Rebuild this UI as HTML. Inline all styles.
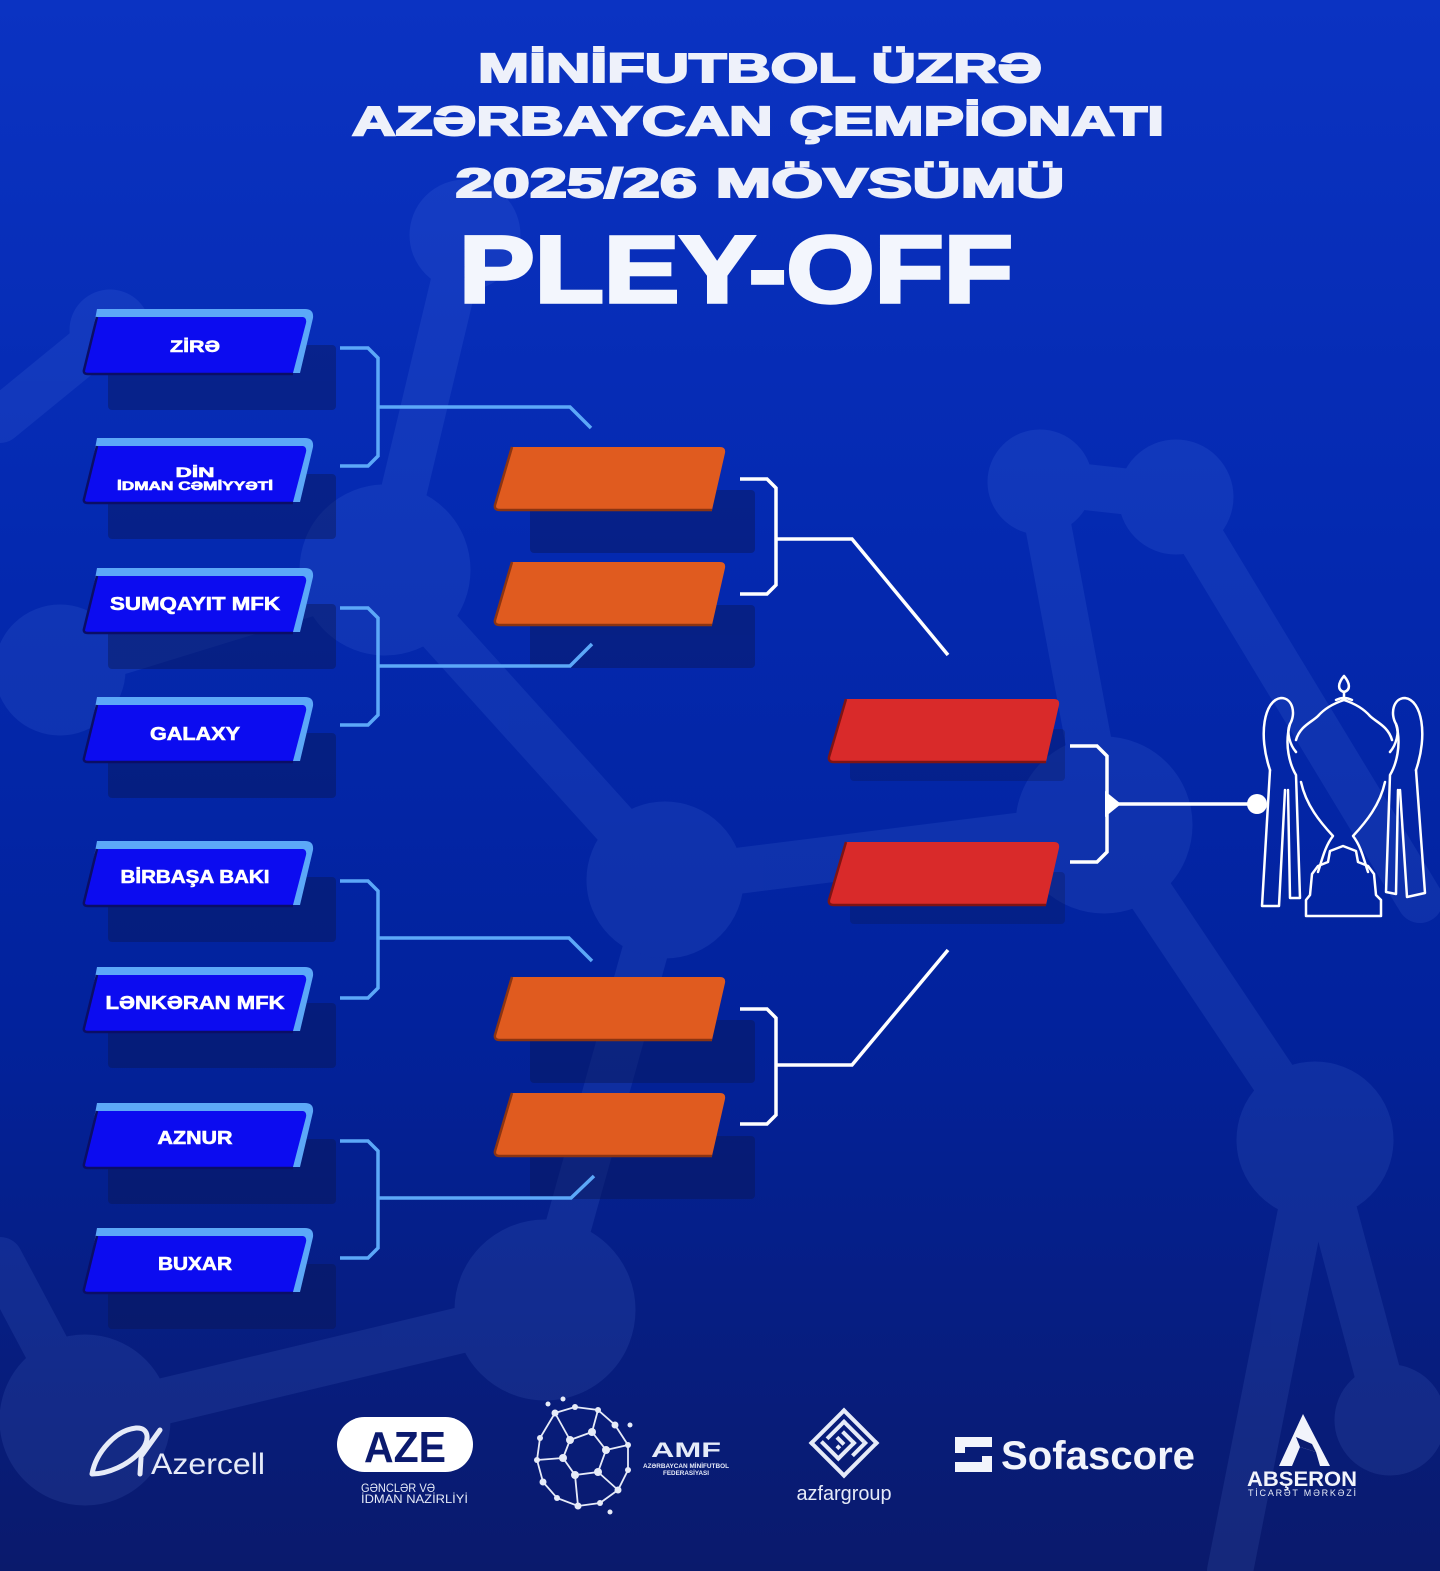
<!DOCTYPE html>
<html>
<head>
<meta charset="utf-8">
<style>
html,body{margin:0;padding:0;background:#0426a8;}
svg{display:block;}
text{font-family:"Liberation Sans","DejaVu Sans",sans-serif;}
</style>
</head>
<body>
<svg width="1440" height="1571" viewBox="0 0 1440 1571" xmlns="http://www.w3.org/2000/svg">
<defs>
<linearGradient id="bg" x1="0" y1="0" x2="0" y2="1">
<stop offset="0" stop-color="#0b33c2"/>
<stop offset="0.35" stop-color="#0429b0"/>
<stop offset="0.65" stop-color="#02229c"/>
<stop offset="1" stop-color="#0a1a6c"/>
</linearGradient>
</defs>
<rect width="1440" height="1571" fill="url(#bg)"/>

<!-- background network -->
<g opacity="0.1" fill="#7ea8ff" stroke="#7ea8ff" stroke-linecap="round">
<g stroke-width="46" fill="none">
<line x1="465" y1="235" x2="385" y2="570"/>
<line x1="385" y1="570" x2="665" y2="880"/>
<line x1="385" y1="570" x2="60" y2="670"/>
<line x1="665" y1="880" x2="1104" y2="825"/>
<line x1="1040" y1="482" x2="1176" y2="497"/>
<line x1="1040" y1="482" x2="1104" y2="825"/>
<line x1="1176" y1="497" x2="1420" y2="900"/>
<line x1="1104" y1="825" x2="1315" y2="1140"/>
<line x1="1315" y1="1140" x2="1390" y2="1420"/>
<line x1="545" y1="1310" x2="85" y2="1420"/>
<line x1="665" y1="880" x2="545" y2="1310"/>
<line x1="0" y1="1260" x2="85" y2="1420"/>
<line x1="0" y1="420" x2="110" y2="330"/>
<line x1="1315" y1="1140" x2="1230" y2="1571"/>
</g>
<circle cx="465" cy="235" r="55"/>
<circle cx="385" cy="570" r="85"/>
<circle cx="60" cy="670" r="65"/>
<circle cx="665" cy="880" r="78"/>
<circle cx="1040" cy="482" r="52"/>
<circle cx="1176" cy="497" r="57"/>
<circle cx="1104" cy="825" r="88"/>
<circle cx="1315" cy="1140" r="78"/>
<circle cx="545" cy="1310" r="90"/>
<circle cx="85" cy="1420" r="85"/>
<circle cx="1390" cy="1420" r="55"/>
<circle cx="110" cy="330" r="40"/>
</g>

<!-- TITLE -->
<g fill="#eef1fa" stroke="#eef1fa" font-weight="bold" text-anchor="middle">
<text x="760" y="82" font-size="41" stroke-width="2" textLength="564" lengthAdjust="spacingAndGlyphs">MİNİFUTBOL  ÜZRƏ</text>
<text x="758" y="135" font-size="41" stroke-width="2" textLength="812" lengthAdjust="spacingAndGlyphs">AZƏRBAYCAN ÇEMPİONATI</text>
<text x="760" y="197" font-size="41" stroke-width="2" textLength="609" lengthAdjust="spacingAndGlyphs">2025/26 MÖVSÜMÜ</text>
<text x="736" y="302" font-size="95" stroke-width="3.5" fill="#f3f6fd" stroke="#f3f6fd" textLength="554" lengthAdjust="spacingAndGlyphs">PLEY-OFF</text>
</g>

<!-- SHADOWS -->
<g fill="#0a1650" opacity="0.42">
<rect x="108" y="345" width="228" height="65" rx="4"/>
<rect x="108" y="474" width="228" height="65" rx="4"/>
<rect x="108" y="604" width="228" height="65" rx="4"/>
<rect x="108" y="733" width="228" height="65" rx="4"/>
<rect x="108" y="877" width="228" height="65" rx="4"/>
<rect x="108" y="1003" width="228" height="65" rx="4"/>
<rect x="108" y="1139" width="228" height="65" rx="4"/>
<rect x="108" y="1264" width="228" height="65" rx="4"/>
<rect x="530" y="490" width="225" height="63" rx="4"/>
<rect x="530" y="605" width="225" height="63" rx="4"/>
<rect x="530" y="1020" width="225" height="63" rx="4"/>
<rect x="530" y="1136" width="225" height="63" rx="4"/>
</g>
<g fill="#0a1650" opacity="0.3">
<rect x="850" y="729" width="215" height="52" rx="4"/>
<rect x="850" y="872" width="215" height="52" rx="4"/>
</g>

<!-- blue connectors -->
<g fill="none" stroke="#5ca8f8" stroke-width="3.5" stroke-linejoin="miter">
<path d="M340,348 H368 L378,358 V456 L368,466 H340"/>
<path d="M378,407 H570 L591,428"/>
<path d="M340,608 H368 L378,618 V715 L368,725 H340"/>
<path d="M378,666 H570 L592,644"/>
<path d="M340,881 H368 L378,891 V988 L368,998 H340"/>
<path d="M378,938 H569 L592,961"/>
<path d="M340,1141 H368 L378,1151 V1248 L368,1258 H340"/>
<path d="M378,1198 H571 L594,1176"/>
</g>

<!-- white connectors -->
<g fill="none" stroke="#ffffff" stroke-width="3.5">
<path d="M740,479 H767 L776,488 V585 L767,594 H740"/>
<path d="M776,539 H852 L948,655"/>
<path d="M740,1009 H767 L776,1018 V1115 L767,1124 H740"/>
<path d="M776,1065 H852 L948,950"/>
<path d="M1070,746 H1097 L1107,756 V852 L1097,862 H1070"/>
<path d="M1107,804 H1257"/>
</g>
<path d="M1105,791 L1121,804 L1105,817 Z" fill="#ffffff"/>
<circle cx="1257" cy="804" r="10" fill="#ffffff"/>

<!-- TEAM BOXES -->
<g id="teams">
<g transform="translate(0,309)">
<path d="M97,0 L305,0 Q314,0 313,9 L300,64 L85,64 Z" fill="#5ca8f8"/>
<path d="M97,8 L303,8 Q307,9 306,14 L293,64 L84,64 Z" fill="#0c0cf0"/>
<path d="M97,8 L84,61 Q83,65 88,65 L293,65" fill="none" stroke="#0a0e66" stroke-width="2.5"/>
</g>
<g transform="translate(0,438)">
<path d="M97,0 L305,0 Q314,0 313,9 L300,64 L85,64 Z" fill="#5ca8f8"/>
<path d="M97,8 L303,8 Q307,9 306,14 L293,64 L84,64 Z" fill="#0c0cf0"/>
<path d="M97,8 L84,61 Q83,65 88,65 L293,65" fill="none" stroke="#0a0e66" stroke-width="2.5"/>
</g>
<g transform="translate(0,568)">
<path d="M97,0 L305,0 Q314,0 313,9 L300,64 L85,64 Z" fill="#5ca8f8"/>
<path d="M97,8 L303,8 Q307,9 306,14 L293,64 L84,64 Z" fill="#0c0cf0"/>
<path d="M97,8 L84,61 Q83,65 88,65 L293,65" fill="none" stroke="#0a0e66" stroke-width="2.5"/>
</g>
<g transform="translate(0,697)">
<path d="M97,0 L305,0 Q314,0 313,9 L300,64 L85,64 Z" fill="#5ca8f8"/>
<path d="M97,8 L303,8 Q307,9 306,14 L293,64 L84,64 Z" fill="#0c0cf0"/>
<path d="M97,8 L84,61 Q83,65 88,65 L293,65" fill="none" stroke="#0a0e66" stroke-width="2.5"/>
</g>
<g transform="translate(0,841)">
<path d="M97,0 L305,0 Q314,0 313,9 L300,64 L85,64 Z" fill="#5ca8f8"/>
<path d="M97,8 L303,8 Q307,9 306,14 L293,64 L84,64 Z" fill="#0c0cf0"/>
<path d="M97,8 L84,61 Q83,65 88,65 L293,65" fill="none" stroke="#0a0e66" stroke-width="2.5"/>
</g>
<g transform="translate(0,967)">
<path d="M97,0 L305,0 Q314,0 313,9 L300,64 L85,64 Z" fill="#5ca8f8"/>
<path d="M97,8 L303,8 Q307,9 306,14 L293,64 L84,64 Z" fill="#0c0cf0"/>
<path d="M97,8 L84,61 Q83,65 88,65 L293,65" fill="none" stroke="#0a0e66" stroke-width="2.5"/>
</g>
<g transform="translate(0,1103)">
<path d="M97,0 L305,0 Q314,0 313,9 L300,64 L85,64 Z" fill="#5ca8f8"/>
<path d="M97,8 L303,8 Q307,9 306,14 L293,64 L84,64 Z" fill="#0c0cf0"/>
<path d="M97,8 L84,61 Q83,65 88,65 L293,65" fill="none" stroke="#0a0e66" stroke-width="2.5"/>
</g>
<g transform="translate(0,1228)">
<path d="M97,0 L305,0 Q314,0 313,9 L300,64 L85,64 Z" fill="#5ca8f8"/>
<path d="M97,8 L303,8 Q307,9 306,14 L293,64 L84,64 Z" fill="#0c0cf0"/>
<path d="M97,8 L84,61 Q83,65 88,65 L293,65" fill="none" stroke="#0a0e66" stroke-width="2.5"/>
</g>
</g>

<!-- team names -->
<g fill="#ffffff" stroke="#ffffff" stroke-width="0.6" font-weight="bold" text-anchor="middle">
<text x="195" y="352" font-size="17" textLength="50" lengthAdjust="spacingAndGlyphs">ZİRƏ</text>
<text x="195" y="477" font-size="14" textLength="39" lengthAdjust="spacingAndGlyphs">DİN</text>
<text x="195" y="490" font-size="12" textLength="156" lengthAdjust="spacingAndGlyphs">İDMAN CƏMİYYƏTİ</text>
<text x="195" y="610" font-size="18" textLength="170" lengthAdjust="spacingAndGlyphs">SUMQAYIT MFK</text>
<text x="195" y="740" font-size="18" textLength="90" lengthAdjust="spacingAndGlyphs">GALAXY</text>
<text x="195" y="883" font-size="18" textLength="149" lengthAdjust="spacingAndGlyphs">BİRBAŞA BAKI</text>
<text x="195" y="1009" font-size="18" textLength="179" lengthAdjust="spacingAndGlyphs">LƏNKƏRAN MFK</text>
<text x="195" y="1144" font-size="18" textLength="75" lengthAdjust="spacingAndGlyphs">AZNUR</text>
<text x="195" y="1270" font-size="18" textLength="74" lengthAdjust="spacingAndGlyphs">BUXAR</text>
</g>

<!-- ORANGE BOXES -->
<g>
<g transform="translate(0,447)">
<path d="M512,0 L720,0 Q726,0 725,6 L712,63 L500,63 Q494,63 495,58 Z" fill="#e05b1f"/>
<path d="M512,0 L495,58 Q494,63 500,63 L712,63" fill="none" stroke="#8b3412" stroke-width="2.5"/>
</g>
<g transform="translate(0,562)">
<path d="M512,0 L720,0 Q726,0 725,6 L712,63 L500,63 Q494,63 495,58 Z" fill="#e05b1f"/>
<path d="M512,0 L495,58 Q494,63 500,63 L712,63" fill="none" stroke="#8b3412" stroke-width="2.5"/>
</g>
<g transform="translate(0,977)">
<path d="M512,0 L720,0 Q726,0 725,6 L712,63 L500,63 Q494,63 495,58 Z" fill="#e05b1f"/>
<path d="M512,0 L495,58 Q494,63 500,63 L712,63" fill="none" stroke="#8b3412" stroke-width="2.5"/>
</g>
<g transform="translate(0,1093)">
<path d="M512,0 L720,0 Q726,0 725,6 L712,63 L500,63 Q494,63 495,58 Z" fill="#e05b1f"/>
<path d="M512,0 L495,58 Q494,63 500,63 L712,63" fill="none" stroke="#8b3412" stroke-width="2.5"/>
</g>
</g>

<!-- RED BOXES -->
<g>
<g transform="translate(0,699)">
<path d="M846,0 L1054,0 Q1060,0 1059,6 L1046,63 L834,63 Q828,63 829,58 Z" fill="#d92a2a"/>
<path d="M846,0 L829,58 Q828,63 834,63 L1046,63" fill="none" stroke="#7e1414" stroke-width="2.5"/>
</g>
<g transform="translate(0,842)">
<path d="M846,0 L1054,0 Q1060,0 1059,6 L1046,63 L834,63 Q828,63 829,58 Z" fill="#d92a2a"/>
<path d="M846,0 L829,58 Q828,63 834,63 L1046,63" fill="none" stroke="#7e1414" stroke-width="2.5"/>
</g>
</g>

<!-- TROPHY -->
<g fill="none" stroke="#ffffff" stroke-width="2.5" stroke-linejoin="round" stroke-linecap="round">
<path d="M1344,676 C1338,683 1337,690 1344,692 C1351,690 1350,683 1344,676 Z"/>
<path d="M1344,692 V698"/>
<path d="M1336,700 Q1344,696 1352,700"/>
<path d="M1296,740 C1300,726 1312,722 1318,716 C1325,708 1335,703 1344,700 C1353,703 1363,708 1370,716 C1376,722 1388,726 1392,740"/>
<path d="M1270,770 C1258,735 1264,700 1281,698 C1293,698 1296,714 1290,724 C1286,732 1290,745 1296,752"/>
<path d="M1270,770 L1262,906 L1279,906 L1285,790"/>
<path d="M1290,724 C1284,745 1290,765 1296,775 L1300,898 L1290,898 L1288,790"/>
<path d="M1416,770 C1428,735 1422,700 1405,698 C1393,698 1390,714 1396,724 C1400,732 1396,745 1390,752"/>
<path d="M1416,770 L1425,893 L1407,897 L1400,790"/>
<path d="M1396,724 C1402,745 1396,765 1390,775 L1386,892 L1396,894 L1398,790"/>
<path d="M1301,782 C1306,805 1320,822 1333,836 C1325,846 1322,860 1318,872"/>
<path d="M1385,782 C1380,805 1366,822 1353,836 C1361,846 1364,860 1368,872"/>
<path d="M1312,874 L1318,866 L1328,862 L1330,851 L1343,846 L1356,851 L1358,862 L1368,866 L1374,874 L1376,895 L1381,900 L1381,916 L1306,916 L1306,900 L1310,895 Z"/>
</g>

<!-- LOGOS -->
<!-- Azercell -->
<g fill="none" stroke="#e6ebf8" stroke-width="5" stroke-linecap="round">
<path d="M92,1474 C96,1452 116,1430 136,1428 C150,1427 150,1442 140,1452 C128,1465 108,1474 92,1474"/>
<path d="M160,1430 L142,1455"/>
<path d="M141,1458 L140,1474"/>
</g>
<text x="151" y="1474" font-size="30" fill="#e6ebf8" textLength="114" lengthAdjust="spacingAndGlyphs">Azercell</text>

<!-- AZE -->
<rect x="337" y="1417" width="136" height="55" rx="27.5" fill="#ffffff"/>
<text x="405" y="1462" font-size="44" font-weight="bold" fill="#0b1a6e" text-anchor="middle" textLength="82" lengthAdjust="spacingAndGlyphs">AZE</text>
<text x="361" y="1492" font-size="12" fill="#e6ebf8" textLength="74" lengthAdjust="spacingAndGlyphs">GƏNCLƏR VƏ</text>
<text x="361" y="1503" font-size="12" fill="#e6ebf8" textLength="107" lengthAdjust="spacingAndGlyphs">İDMAN NAZİRLİYİ</text>

<!-- AMF ball -->
<g stroke="#e6ebf8" stroke-width="1.8" fill="none">
<path d="M555,1413 L575,1407 L598,1410 L615,1425 L628,1445 L628,1470 L618,1490 L600,1503 L578,1506 L557,1498 L543,1482 L537,1460 L540,1438 L555,1413"/>
<path d="M570,1440 L592,1432 L606,1450 L598,1472 L575,1475 L563,1458 Z"/>
<path d="M570,1440 L555,1413 M592,1432 L598,1410 M606,1450 L628,1445 M598,1472 L618,1490 M575,1475 L578,1506 M563,1458 L537,1460"/>
</g>
<g fill="#e6ebf8">
<circle cx="555" cy="1413" r="3.5"/><circle cx="575" cy="1407" r="3"/><circle cx="598" cy="1410" r="3"/>
<circle cx="615" cy="1425" r="3.5"/><circle cx="628" cy="1445" r="3"/><circle cx="628" cy="1470" r="3"/>
<circle cx="618" cy="1490" r="3.5"/><circle cx="600" cy="1503" r="3"/><circle cx="578" cy="1506" r="3.5"/>
<circle cx="557" cy="1498" r="3"/><circle cx="543" cy="1482" r="3.5"/><circle cx="537" cy="1460" r="3"/>
<circle cx="540" cy="1438" r="3"/><circle cx="570" cy="1440" r="4"/><circle cx="592" cy="1432" r="4"/>
<circle cx="606" cy="1450" r="4"/><circle cx="598" cy="1472" r="4"/><circle cx="575" cy="1475" r="4"/>
<circle cx="563" cy="1458" r="4"/><circle cx="548" cy="1404" r="2.5"/><circle cx="563" cy="1399" r="2.5"/>
<circle cx="630" cy="1425" r="2.5"/><circle cx="610" cy="1512" r="2.5"/>
</g>
<text x="651" y="1457" font-size="21" font-weight="bold" fill="#e6ebf8" textLength="70" lengthAdjust="spacingAndGlyphs">AMF</text>
<text x="686" y="1468" font-size="6" font-weight="bold" fill="#e6ebf8" text-anchor="middle" textLength="86" lengthAdjust="spacingAndGlyphs">AZƏRBAYCAN MİNİFUTBOL</text>
<text x="686" y="1475" font-size="6" font-weight="bold" fill="#e6ebf8" text-anchor="middle" textLength="46" lengthAdjust="spacingAndGlyphs">FEDERASİYASI</text>

<!-- azfargroup -->
<g transform="translate(844,1443) rotate(45)" fill="#e6ebf8">
<rect x="-25" y="-25" width="50" height="4"/>
<rect x="-25" y="-25" width="4" height="50"/>
<rect x="-25" y="21" width="50" height="4"/>
<rect x="21" y="-25" width="4" height="50"/>
<rect x="-17" y="-17" width="30" height="4"/>
<rect x="-17" y="-17" width="4" height="26"/>
<rect x="-9" y="-9" width="18" height="4"/>
<rect x="5" y="-9" width="4" height="26"/>
<rect x="-17" y="13" width="26" height="4"/>
<rect x="-9" y="-1" width="10" height="4"/>
<rect x="-3" y="5" width="4" height="4"/>
<rect x="13" y="-17" width="4" height="20"/>
</g>
<text x="844" y="1500" font-size="20" fill="#e6ebf8" text-anchor="middle" textLength="95" lengthAdjust="spacingAndGlyphs">azfargroup</text>

<!-- Sofascore -->
<g fill="#f2f4fb">
<path d="M955,1437 H992 V1447 H965 V1453 H955 Z"/>
<path d="M955,1462 H982 V1456 H992 V1472 H955 Z"/>
</g>
<text x="1001" y="1469" font-size="40" font-weight="bold" fill="#f2f4fb" textLength="194" lengthAdjust="spacingAndGlyphs">Sofascore</text>

<!-- Abseron -->
<path d="M1303,1414 L1279,1466 L1292,1466 L1300,1447 L1316,1452 L1320,1466 L1330,1466 Z" fill="#f2f4fb"/>
<path d="M1296,1437 L1312,1444 L1316,1452 L1300,1447 Z" fill="#0b1c70"/>
<text x="1302" y="1486" font-size="21" font-weight="bold" fill="#f2f4fb" text-anchor="middle" textLength="110" lengthAdjust="spacingAndGlyphs">ABŞERON</text>
<text x="1302" y="1496" font-size="9" fill="#e6ebf8" text-anchor="middle" textLength="108" lengthAdjust="spacing">TİCARƏT MƏRKƏZİ</text>
</svg>
</body>
</html>
